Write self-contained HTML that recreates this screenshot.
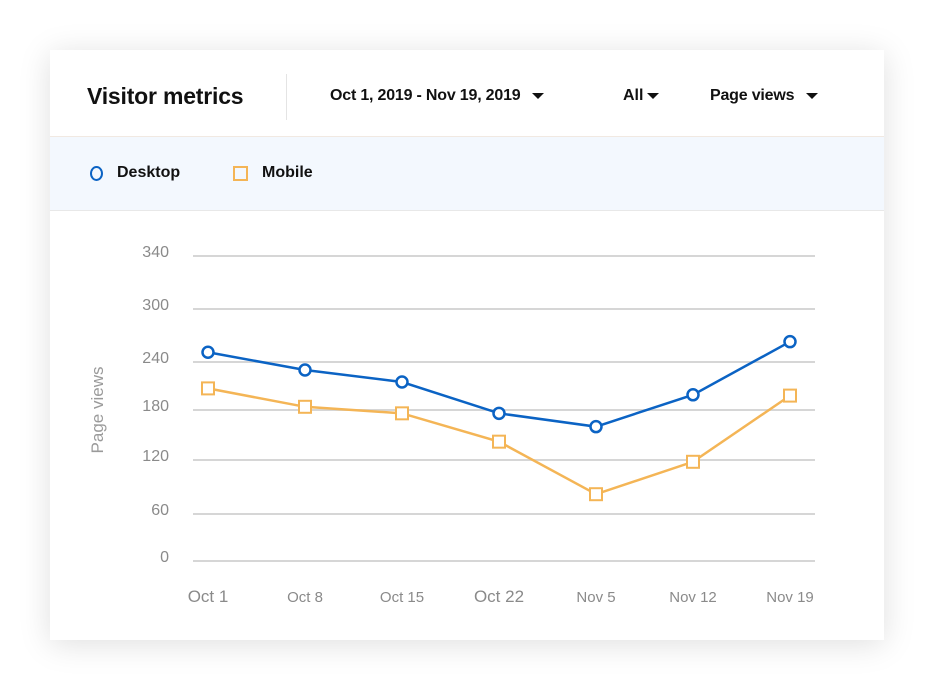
<!DOCTYPE html>
<html><head><meta charset="utf-8"><style>
body{margin:0;width:934px;height:690px;background:#fff;font-family:"Liberation Sans",sans-serif;overflow:hidden}
.card{position:absolute;left:50px;top:50px;width:834px;height:590px;background:#fff;box-shadow:0 4px 30px rgba(0,0,0,0.13)}
.hdr{position:absolute;left:0;top:0;width:834px;height:86px;border-bottom:1px solid #f1e9e2}
.t{position:absolute;top:33px;font-weight:bold;color:#111}
.legend{position:absolute;left:0;top:87px;width:834px;height:73px;background:#f3f8fe;border-bottom:1px solid #e8e8e8}
.caret{display:inline-block;width:0;height:0;border-left:6px solid transparent;border-right:6px solid transparent;border-top:6px solid #111;margin-left:12px;vertical-align:middle}
</style></head><body>
<div class="card">
<div class="hdr">
<div class="t" style="left:37px;top:33px;font-size:23px;letter-spacing:-0.2px">Visitor metrics</div>
<div style="position:absolute;left:236px;top:24px;width:1px;height:46px;background:#e4e4e4"></div>
<div class="t" style="left:280px;top:37px;font-size:16px;letter-spacing:-0.2px">Oct 1, 2019 - Nov 19, 2019<span class="caret"></span></div>
<div class="t" style="left:573px;top:37px;font-size:16px">All<span class="caret" style="margin-left:4px"></span></div>
<div class="t" style="left:660px;top:37px;font-size:16px;letter-spacing:-0.2px">Page views<span class="caret"></span></div>
</div>
<div class="legend">
<div style="position:absolute;left:40px;top:29px;width:9px;height:11px;border:2.5px solid #0b63c4;border-radius:50%"></div>
<div class="t" style="left:67px;top:27px;font-size:16px">Desktop</div>
<div style="position:absolute;left:183px;top:29px;width:11px;height:11px;border:2px solid #f4b556"></div>
<div class="t" style="left:212px;top:27px;font-size:16px">Mobile</div>
</div>
</div>
<svg id="chart" width="934" height="690" style="position:absolute;left:0;top:0"></svg>
<script>
const categories=["Oct 1","Oct 8","Oct 15","Oct 22","Nov 5","Nov 12","Nov 19"];
const desktop=[251,230,215,176,160,199,263];
const mobile=[207,184,176,142,82,118,198];
const yTicks=[0,60,120,180,240,300,340];
const yTickPx=[561,514,460,410,362,309,256];
const NS="http://www.w3.org/2000/svg";
const svg=document.getElementById('chart');
function y(v){for(let i=0;i<yTicks.length-1;i++){if(v<=yTicks[i+1]||i==yTicks.length-2){const a=yTicks[i],b=yTicks[i+1];return yTickPx[i]+(v-a)/(b-a)*(yTickPx[i+1]-yTickPx[i]);}}}
function x(i){return 208+i*97;}
function mk(t,a){const e=document.createElementNS(NS,t);for(const k in a)e.setAttribute(k,a[k]);svg.appendChild(e);return e;}
yTicks.forEach((v,i)=>{
const l=mk('line',{x1:193,x2:815,y1:y(v),y2:y(v),stroke:'#d6d6d6','stroke-width':2});


const t=mk('text',{x:169,y:y(v)+1,'text-anchor':'end','font-size':16,fill:'#8a8a8a','font-family':'Liberation Sans'});
t.textContent=v;


});
categories.forEach((c,i)=>{
const t=mk('text',{x:x(i),y:602,'text-anchor':'middle','font-size':(i==0||i==3)?17:15,fill:'#8a8a8a','font-family':'Liberation Sans'});
t.textContent=c;


});
const yt=mk('text',{x:103,y:410,'text-anchor':'middle','font-size':17,fill:'#9a9a9a',transform:'rotate(-90 103 410)','font-family':'Liberation Sans'});
yt.textContent='Page views';


function series(d,col,name,sq){
const p=mk('polyline',{points:d.map((v,i)=>x(i)+','+y(v)).join(' '),fill:'none',stroke:col,'stroke-width':2.5});


d.forEach((v,i)=>{
let m;
if(sq)m=mk('rect',{x:x(i)-6,y:y(v)-6,width:12,height:12,fill:'#fff',stroke:col,'stroke-width':2});
else m=mk('circle',{cx:x(i),cy:y(v),r:5.5,fill:'#fff',stroke:col,'stroke-width':2.5});


});
}
series(mobile,'#f4b556','mobile',true);
series(desktop,'#0b63c4','desktop',false);
</script>
</body></html>
